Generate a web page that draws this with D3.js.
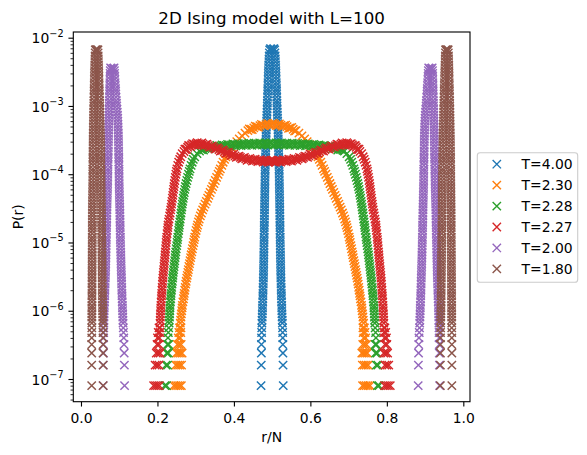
<!DOCTYPE html>
<html>
<head>
<meta charset="utf-8">
<script src="https://cdn.jsdelivr.net/npm/d3@7"></script>
<style>
  body { margin: 0; background: #fff; }
  text { font-family: "DejaVu Sans", sans-serif; fill: #000; }
</style>
</head>
<body>
<div id="chart"></div>
<script>
// P(r) levels: first the single-count rows (k * 8e-8), then a finer ladder
var levels = [8e-8,1.6e-7,2.4e-7,3.2e-7,4e-7,4.8e-7,5.6e-7,
  6.6e-7,7.3e-7,8.1e-7,9e-7,
  1e-6,1.1e-6,1.2e-6,1.35e-6,1.5e-6,1.65e-6,1.8e-6,2e-6,2.2e-6,2.45e-6,2.7e-6,3e-6,3.3e-6,3.65e-6,4e-6,4.45e-6,4.9e-6,5.4e-6,6e-6,6.6e-6,7.3e-6,8.1e-6,9e-6,
  1e-5,1.1e-5,1.2e-5,1.35e-5,1.5e-5,1.65e-5,1.8e-5,2e-5,2.2e-5,2.45e-5,2.7e-5,3e-5,3.3e-5,3.65e-5,4e-5,4.45e-5,4.9e-5,5.4e-5,6e-5,6.6e-5,7.3e-5,8.1e-5,9e-5,
  1e-4,1.1e-4,1.2e-4,1.35e-4,1.5e-4,1.65e-4,1.8e-4,2e-4,2.2e-4,2.45e-4,2.7e-4,3e-4,3.3e-4,3.65e-4,4e-4,4.45e-4,4.9e-4,5.4e-4,6e-4,6.6e-4,7.3e-4,8.1e-4,9e-4,
  1e-3,1.1e-3,1.2e-3,1.35e-3,1.5e-3,1.65e-3,1.8e-3,2e-3,2.2e-3,2.45e-3,2.7e-3,3e-3,3.3e-3,3.65e-3,4e-3,4.45e-3,4.9e-3,5.4e-3,6e-3,6.6e-3];

var labels = ["T=4.00", "T=2.30", "T=2.28", "T=2.27", "T=2.00", "T=1.80"];
var xTicks = [0, 0.2, 0.4, 0.6, 0.8, 1.0];
var yTicks = [1e-7, 1e-6, 1e-5, 1e-4, 1e-3, 1e-2];

// T=4.00 : r/N of each flank, one value per level starting at levels[0]
var t400L = [.471,.4715,.4718,.472,.4722,.4725,.4728,
  .4733,.4736,.474,.4743,
  .4746,.4748,.475,.4753,.4756,.4758,.476,.4762,.4764,.4767,.4769,.4772,.4774,.4775,.4776,.4777,.4779,.478,.4781,.4783,.4784,.4785,.4787,
  .4788,.4789,.479,.4792,.4793,.4794,.4795,.4796,.4797,.4799,.48,.4801,.4802,.4803,.4804,.4805,.4807,.4808,.4809,.481,.4811,.4813,.4814,
  .4815,.4817,.4819,.4822,.4824,.4826,.4828,.483,.4832,.4834,.4836,.4838,.484,.4842,.4844,.4846,.4849,.4852,.4856,.4859,.4862,.4866,.4869,
  .4872,.4874,.4877,.488,.4883,.4885,.4887,.489,.4892,.4895,.4898,.4901,.4903,.4907,.491,.4914,.4917,.4922,.4928,.4935];
var t400R = [.529,.5285,.5282,.528,.5278,.5275,.5272,
  .5267,.5264,.526,.5257,
  .5254,.5252,.525,.5247,.5244,.5242,.524,.5238,.5236,.5233,.5231,.5228,.5226,.5225,.5224,.5223,.5221,.522,.5219,.5217,.5216,.5215,.5213,
  .5212,.5211,.521,.5208,.5207,.5206,.5205,.5204,.5203,.5201,.52,.5199,.5198,.5197,.5196,.5195,.5193,.5192,.5191,.519,.5189,.5187,.5186,
  .5185,.5183,.5181,.5178,.5176,.5174,.5172,.517,.5168,.5166,.5164,.5162,.516,.5158,.5156,.5154,.5151,.5148,.5144,.5141,.5138,.5134,.5131,
  .5128,.5126,.5123,.512,.5117,.5115,.5113,.511,.5108,.5105,.5102,.5099,.5097,.5093,.509,.5086,.5083,.5078,.5072,.5065];
var t400Top = [[.4955,6.9e-3],[.4975,6.8e-3],[.5,6.5e-3],[.5025,6.8e-3],[.5045,6.9e-3]];

// T=2.30 : flanks start at levels[7]; extra points are the low-count rows and the crest
var t230L = [.2598,.2606,.2615,.2625,
  .2635,.2644,.2652,.2665,.268,.2691,.2702,.2714,.2726,.2739,.2752,.2766,.278,.2795,.2808,.2823,.2838,.2853,.2868,.2883,.2898,.2914,.293,
  .2947,.2961,.2975,.2994,.3012,.3032,.305,.3072,.3093,.3122,.315,.3182,.3212,.3245,.3278,.3313,.3345,.3378,.3412,.3445,.3478,.3513,.3547,
  .3585,.3617,.3645,.3683,.3717,.3755,.379,.384,.389,.395,.401,.4075,.414,.421,.429];
var t230R = [.7392,.7384,.7375,.7365,
  .7355,.7346,.7338,.7325,.731,.7299,.7288,.7276,.7264,.7251,.7238,.7224,.721,.7195,.7182,.7167,.7152,.7137,.7122,.7107,.7092,.7076,.706,
  .7043,.7029,.7015,.6996,.6978,.6958,.694,.6918,.6897,.6868,.684,.6808,.6778,.6745,.6712,.6677,.6645,.6612,.6578,.6545,.6512,.6477,.6443,
  .6405,.6373,.6345,.6307,.6273,.6235,.62,.615,.61,.604,.598,.5915,.585,.578,.57];
var t230Pts = [[.243,8e-8],[.248,8e-8],[.253,8e-8],[.258,8e-8],[.2625,8e-8],
  [.248,1.6e-7],[.253,1.6e-7],[.258,1.6e-7],[.263,1.6e-7],
  [.25,2.4e-7],[.255,2.4e-7],[.26,2.4e-7],[.2645,2.4e-7],
  [.252,3.2e-7],[.257,3.2e-7],[.262,3.2e-7],[.2545,4e-7],[.2595,4e-7],
  [.256,4.8e-7],[.261,4.8e-7],[.2575,5.6e-7],[.2615,5.6e-7],
  [.4365,4.35e-4],[.444,4.55e-4],[.452,4.78e-4],[.46,4.98e-4],[.468,5.13e-4],[.476,5.25e-4],
  [.484,5.33e-4],[.492,5.38e-4],[.4995,5.4e-4],[.507,5.38e-4],[.515,5.33e-4],[.523,5.25e-4],
  [.531,5.13e-4],[.539,4.98e-4],[.547,4.78e-4],[.555,4.55e-4],[.5625,4.35e-4],
  [.4403,4.6e-4],[.448,4.5e-4],[.456,5.05e-4],[.464,4.88e-4],[.472,5.37e-4],[.48,5.1e-4],
  [.488,5.55e-4],[.4958,5.2e-4],[.5033,5.57e-4],[.511,5.15e-4],[.519,5.47e-4],[.527,5.02e-4],
  [.535,5.22e-4],[.543,4.7e-4],[.551,4.84e-4],[.5588,4.3e-4],
  [.756,8e-8],[.751,8e-8],[.746,8e-8],[.741,8e-8],[.7365,8e-8],
  [.751,1.6e-7],[.746,1.6e-7],[.741,1.6e-7],[.736,1.6e-7],
  [.749,2.4e-7],[.744,2.4e-7],[.739,2.4e-7],[.7345,2.4e-7],
  [.747,3.2e-7],[.742,3.2e-7],[.737,3.2e-7],[.7445,4e-7],[.7395,4e-7],
  [.743,4.8e-7],[.738,4.8e-7],[.7415,5.6e-7],[.7375,5.6e-7]];

// T=2.28
var t228L = [.2306,.231,.2314,.2318,
  .2323,.2327,.2331,.2338,.2346,.2352,.2358,.2366,.2373,.2382,.239,.2398,.2406,.2415,.2423,.2433,.2442,.2451,.2461,.247,.248,.2491,.2503,
  .2514,.2523,.2533,.2544,.2555,.2565,.2574,.2585,.2596,.2607,.2617,.2628,.2639,.265,.2661,.2675,.2688,.2701,.2716,.2731,.2749,.2769,.2789,
  .2812,.2833,.2852,.2881,.2908,.2938,.2975,.3035];
var t228R = [.7684,.768,.7676,.7672,
  .7667,.7663,.7659,.7652,.7644,.7638,.7632,.7624,.7617,.7608,.76,.7592,.7584,.7575,.7567,.7557,.7548,.7539,.7529,.752,.751,.7499,.7487,
  .7476,.7467,.7457,.7446,.7435,.7425,.7416,.7405,.7394,.7383,.7373,.7362,.7351,.734,.7329,.7315,.7302,.7289,.7274,.7259,.7241,.7221,.7201,
  .7178,.7157,.7138,.7109,.7082,.7052,.7015,.6955];
var t228Pts = [[.2195,8e-8],[.2235,8e-8],[.2225,1.6e-7],[.2265,1.6e-7],
  [.2245,2.4e-7],[.2285,2.4e-7],[.226,3.2e-7],[.2295,3.2e-7],
  [.2275,4e-7],[.2285,4.8e-7],[.2295,5.6e-7],
  [.31,2.18e-4],[.317,2.3e-4],[.324,2.37e-4],[.331,2.42e-4],[.338,2.46e-4],
  [.345,2.5e-4],[.352,2.53e-4],[.359,2.56e-4],[.366,2.59e-4],[.373,2.62e-4],
  [.38,2.64e-4],[.387,2.66e-4],[.394,2.68e-4],[.401,2.69e-4],[.408,2.7e-4],
  [.415,2.72e-4],[.422,2.73e-4],[.429,2.74e-4],[.436,2.75e-4],[.443,2.75e-4],
  [.45,2.76e-4],[.457,2.76e-4],[.464,2.77e-4],[.471,2.77e-4],[.478,2.77e-4],
  [.485,2.77e-4],[.492,2.77e-4],[.4995,2.77e-4],[.507,2.77e-4],[.514,2.77e-4],
  [.521,2.77e-4],[.528,2.77e-4],[.535,2.77e-4],[.542,2.76e-4],[.549,2.76e-4],
  [.556,2.75e-4],[.563,2.75e-4],[.57,2.74e-4],[.577,2.73e-4],[.584,2.72e-4],
  [.591,2.7e-4],[.598,2.69e-4],[.605,2.68e-4],[.612,2.66e-4],[.619,2.64e-4],
  [.626,2.62e-4],[.633,2.59e-4],[.64,2.56e-4],[.647,2.53e-4],[.654,2.5e-4],
  [.661,2.46e-4],[.668,2.42e-4],[.675,2.37e-4],[.682,2.3e-4],[.689,2.18e-4],
  [.3135,2.32e-4],[.3205,2.26e-4],[.3275,2.48e-4],[.3345,2.35e-4],[.3415,2.57e-4],
  [.3485,2.43e-4],[.3555,2.64e-4],[.3625,2.49e-4],[.3695,2.69e-4],[.3765,2.54e-4],
  [.3835,2.74e-4],[.3905,2.58e-4],[.3975,2.78e-4],[.4045,2.61e-4],[.4115,2.81e-4],
  [.4185,2.63e-4],[.4255,2.83e-4],[.4325,2.65e-4],[.4395,2.85e-4],[.4465,2.66e-4],
  [.4535,2.86e-4],[.4605,2.67e-4],[.4675,2.87e-4],[.4745,2.67e-4],[.4815,2.87e-4],
  [.4885,2.67e-4],[.4958,2.87e-4],[.5032,2.67e-4],[.5105,2.87e-4],[.5175,2.67e-4],
  [.5245,2.87e-4],[.5315,2.67e-4],[.5385,2.86e-4],[.5455,2.66e-4],[.5525,2.85e-4],
  [.5595,2.65e-4],[.5665,2.83e-4],[.5735,2.63e-4],[.5805,2.81e-4],[.5875,2.61e-4],
  [.5945,2.78e-4],[.6015,2.58e-4],[.6085,2.74e-4],[.6155,2.54e-4],[.6225,2.69e-4],
  [.6295,2.49e-4],[.6365,2.64e-4],[.6435,2.43e-4],[.6505,2.57e-4],[.6575,2.35e-4],
  [.6645,2.48e-4],[.6715,2.26e-4],[.6785,2.32e-4],[.6855,2.24e-4],
  [.7795,8e-8],[.7755,8e-8],[.7765,1.6e-7],[.7725,1.6e-7],
  [.7745,2.4e-7],[.7705,2.4e-7],[.773,3.2e-7],[.7695,3.2e-7],
  [.7715,4e-7],[.7705,4.8e-7],[.7695,5.6e-7]];

// T=2.27
var t227L = [.2069,.2072,.2076,.2079,
  .2083,.2087,.2091,.2096,.2102,.2107,.2112,.2118,.2124,.213,.2135,.2142,.2149,.2156,.2163,.2171,.2178,.2185,.2193,.22,.2207,.2214,.2221,
  .2228,.2236,.2243,.2252,.2262,.227,.2278,.229,.2302,.2318,.2332,.2346,.2358,.2369,.2379,.2391,.2401,.2411,.2422,.2432,.2443,.2455,.2468,
  .2482,.2496,.251,.2532,.2555,.2582,.261,.2648];
var t227R = [.7921,.7918,.7914,.7911,
  .7907,.7903,.7899,.7894,.7888,.7883,.7878,.7872,.7866,.786,.7855,.7848,.7841,.7834,.7827,.7819,.7812,.7805,.7797,.779,.7783,.7776,.7769,
  .7762,.7754,.7747,.7738,.7728,.772,.7712,.77,.7688,.7672,.7658,.7644,.7632,.7621,.7611,.7599,.7589,.7579,.7568,.7558,.7547,.7535,.7522,
  .7508,.7494,.748,.7458,.7435,.7408,.738,.7342];
var t227Pts = [[.19,8e-8],[.195,8e-8],[.2,8e-8],[.205,8e-8],
  [.194,1.6e-7],[.199,1.6e-7],[.204,1.6e-7],[.197,2.4e-7],[.202,2.4e-7],[.207,2.4e-7],
  [.199,3.2e-7],[.204,3.2e-7],[.2,4e-7],[.205,4e-7],[.202,4.8e-7],[.2065,4.8e-7],
  [.204,5.6e-7],[.2065,5.6e-7],
  [.2695,2.15e-4],[.274,2.32e-4],[.279,2.48e-4],[.284,2.6e-4],[.289,2.68e-4],
  [.295,2.75e-4],[.301,2.79e-4],[.307,2.8e-4],[.313,2.78e-4],[.319,2.75e-4],
  [.326,2.7e-4],[.333,2.62e-4],[.34,2.54e-4],[.347,2.46e-4],[.354,2.38e-4],
  [.361,2.3e-4],[.368,2.22e-4],[.375,2.14e-4],[.382,2.06e-4],[.389,1.99e-4],
  [.396,1.92e-4],[.403,1.86e-4],[.41,1.81e-4],[.417,1.76e-4],[.424,1.72e-4],
  [.431,1.68e-4],[.438,1.65e-4],[.445,1.63e-4],[.452,1.61e-4],[.459,1.59e-4],
  [.466,1.58e-4],[.473,1.57e-4],[.48,1.56e-4],[.487,1.55e-4],[.494,1.55e-4],
  [.5,1.55e-4],[.505,1.55e-4],[.512,1.55e-4],[.519,1.56e-4],[.526,1.57e-4],
  [.533,1.58e-4],[.54,1.59e-4],[.547,1.61e-4],[.554,1.63e-4],[.561,1.65e-4],
  [.568,1.68e-4],[.575,1.72e-4],[.582,1.76e-4],[.589,1.81e-4],[.596,1.86e-4],
  [.603,1.92e-4],[.61,1.99e-4],[.617,2.06e-4],[.624,2.14e-4],[.631,2.22e-4],
  [.638,2.3e-4],[.645,2.38e-4],[.652,2.46e-4],[.659,2.54e-4],[.666,2.62e-4],
  [.673,2.7e-4],[.68,2.75e-4],[.686,2.78e-4],[.692,2.8e-4],[.698,2.79e-4],
  [.704,2.75e-4],[.71,2.68e-4],[.715,2.6e-4],[.72,2.48e-4],[.725,2.32e-4],[.7295,2.15e-4],
  [.2718,2.32e-4],[.2765,2.32e-4],[.2815,2.63e-4],[.2865,2.55e-4],[.292,2.81e-4],
  [.298,2.67e-4],[.304,2.9e-4],[.31,2.69e-4],[.316,2.87e-4],[.3225,2.63e-4],
  [.3295,2.75e-4],[.3365,2.49e-4],[.3435,2.59e-4],[.3505,2.34e-4],[.3575,2.42e-4],
  [.3645,2.18e-4],[.3715,2.26e-4],[.3785,2.03e-4],[.3855,2.09e-4],[.3925,1.88e-4],
  [.3995,1.96e-4],[.4065,1.77e-4],[.4135,1.84e-4],[.4205,1.68e-4],[.4275,1.76e-4],
  [.4345,1.6e-4],[.4415,1.7e-4],[.4485,1.56e-4],[.4555,1.66e-4],[.4625,1.53e-4],
  [.4695,1.63e-4],[.4765,1.51e-4],[.4835,1.61e-4],[.4905,1.5e-4],[.497,1.6e-4],
  [.502,1.6e-4],[.5085,1.5e-4],[.5155,1.61e-4],[.5225,1.51e-4],[.5295,1.63e-4],
  [.5365,1.53e-4],[.5435,1.66e-4],[.5505,1.56e-4],[.5575,1.7e-4],[.5645,1.6e-4],
  [.5715,1.76e-4],[.5785,1.68e-4],[.5855,1.84e-4],[.5925,1.77e-4],[.5995,1.96e-4],
  [.6065,1.88e-4],[.6135,2.09e-4],[.6205,2.03e-4],[.6275,2.26e-4],[.6345,2.18e-4],
  [.6415,2.42e-4],[.6485,2.34e-4],[.6555,2.59e-4],[.6625,2.49e-4],[.6695,2.75e-4],
  [.6765,2.63e-4],[.683,2.87e-4],[.689,2.69e-4],[.695,2.9e-4],[.701,2.67e-4],
  [.707,2.81e-4],[.7125,2.55e-4],[.7175,2.63e-4],[.7225,2.32e-4],[.7272,2.32e-4],
  [.809,8e-8],[.804,8e-8],[.799,8e-8],[.794,8e-8],
  [.805,1.6e-7],[.8,1.6e-7],[.795,1.6e-7],[.802,2.4e-7],[.797,2.4e-7],[.792,2.4e-7],
  [.8,3.2e-7],[.795,3.2e-7],[.799,4e-7],[.794,4e-7],[.797,4.8e-7],[.7925,4.8e-7],
  [.795,5.6e-7],[.7925,5.6e-7]];

// T=2.00 : two peaks, two flanks each (from levels[0])
var t200L1 = [.058,.0585,.0588,.059,.0592,.0594,.0596,
  .0598,.06,.0601,.0603,
  .0605,.0608,.0611,.0615,.0618,.0621,.0623,.0626,.0628,.0631,.0634,.0637,.0639,.0641,.0643,.0645,.0647,.0649,.0651,.0653,.0654,.0656,.0658,
  .066,.0662,.0663,.0665,.0667,.0668,.067,.0671,.0673,.0674,.0676,.0678,.068,.0682,.0684,.0687,.0689,.0691,.0693,.0695,.0697,.0699,.0701,
  .0702,.0703,.0705,.0706,.0708,.0709,.071,.0712,.0713,.0715,.0716,.0717,.0719,.072,.0721,.0723,.0725,.0727,.0729,.0731,.0734,.0736,.0738,
  .074,.0742,.0744,.0746,.0748,.075,.0752,.0754,.0756,.0758,.076,.0763,.0766];
var t200R1 = [.114,.1135,.113,.1125,.112,.1112,.1106,
  .11,.1097,.1094,.1091,
  .1088,.1085,.1083,.1079,.1077,.1074,.1071,.1068,.1066,.1064,.1062,.1059,.1057,.1055,.1053,.105,.1048,.1046,.1044,.1042,.1039,.1037,.1035,
  .1033,.1031,.103,.1028,.1026,.1025,.1023,.1022,.102,.1018,.1017,.1015,.1013,.1011,.1009,.1007,.1005,.1004,.1002,.1,.0999,.0997,.0996,
  .0996,.0995,.0993,.0992,.099,.0989,.0988,.0986,.0985,.0983,.0982,.0981,.0979,.0978,.0976,.0974,.097,.0967,.0964,.0961,.0955,.0949,.0942,
  .0935,.0929,.0924,.0917,.0911,.0906,.0902,.0897,.0892,.0887,.0883,.0878,.0874];
var t200L2 = [.882,.8825,.883,.8835,.884,.8848,.8854,
  .886,.8863,.8866,.8869,
  .8872,.8875,.8877,.8881,.8883,.8886,.8889,.8892,.8894,.8896,.8898,.8901,.8903,.8905,.8907,.891,.8912,.8914,.8916,.8918,.8921,.8923,.8925,
  .8927,.8929,.893,.8932,.8934,.8935,.8937,.8938,.894,.8942,.8943,.8945,.8947,.8949,.8951,.8953,.8955,.8956,.8958,.896,.8961,.8963,.8964,
  .8964,.8965,.8967,.8968,.897,.8971,.8972,.8974,.8975,.8977,.8978,.8979,.8981,.8982,.8984,.8986,.899,.8993,.8996,.8999,.9005,.9011,.9018,
  .9025,.9031,.9036,.9043,.9049,.9054,.9058,.9063,.9068,.9073,.9077,.9082,.9086];
var t200R2 = [.938,.9375,.9372,.937,.9368,.9366,.9364,
  .9362,.936,.9359,.9357,
  .9355,.9352,.9349,.9345,.9342,.9339,.9337,.9334,.9332,.9329,.9326,.9323,.9321,.9319,.9317,.9315,.9313,.9311,.9309,.9307,.9306,.9304,.9302,
  .93,.9298,.9297,.9295,.9293,.9292,.929,.9289,.9287,.9286,.9284,.9282,.928,.9278,.9276,.9273,.9271,.9269,.9267,.9265,.9263,.9261,.9259,
  .9258,.9257,.9255,.9254,.9252,.9251,.925,.9248,.9247,.9245,.9244,.9243,.9241,.924,.9239,.9237,.9235,.9233,.9231,.9229,.9226,.9224,.9222,
  .922,.9218,.9216,.9214,.9212,.921,.9208,.9206,.9204,.9202,.92,.9197,.9194];
var t200Top = [[.0775,3.6e-3],[.0795,3.55e-3],[.082,3.35e-3],[.0845,3.55e-3],[.0865,3.6e-3],
  [.9095,3.6e-3],[.9115,3.55e-3],[.914,3.35e-3],[.9165,3.55e-3],[.9185,3.6e-3]];

// T=1.80
var t180L1 = [.028,.028,.028,.028,.0281,.0282,.0283,
  .0283,.0284,.0284,.0285,
  .0285,.0285,.0286,.0286,.0287,.0287,.0288,.0288,.0288,.0289,.0289,.029,.029,.029,.0291,.0291,.0292,.0292,.0293,.0293,.0293,.0294,.0294,
  .0295,.0295,.0296,.0296,.0297,.0297,.0298,.0298,.0298,.0299,.0299,.03,.03,.0301,.0302,.0303,.0304,.0305,.0306,.0307,.0308,.0309,.031,
  .031,.0311,.0311,.0312,.0313,.0313,.0314,.0315,.0315,.0316,.0317,.0318,.0319,.032,.0321,.0323,.0324,.0326,.0327,.0329,.033,.0332,.0333,
  .0335,.0337,.0338,.034,.0342,.0344,.0345,.0347,.0349,.0351,.0352,.0354,.0356,.0358,.0361,.0364,.0366,.0369,.0372,.0375];
var t180R1 = [.058,.0579,.0578,.0577,.0576,.0575,.0574,
  .0572,.0571,.057,.0568,
  .0565,.0564,.0563,.0562,.0561,.0561,.056,.0559,.0558,.0557,.0556,.0555,.0555,.0554,.0553,.0552,.0551,.055,.0549,.0549,.0548,.0547,.0546,
  .0545,.0544,.0543,.0542,.0541,.0541,.054,.0539,.0538,.0537,.0536,.0535,.0535,.0534,.0533,.0532,.0531,.053,.0529,.0529,.0528,.0527,.0526,
  .0525,.0524,.0523,.0522,.0521,.0519,.0518,.0517,.0516,.0515,.0514,.0513,.0511,.0509,.0507,.0505,.0503,.0501,.0499,.0497,.0495,.0493,.0492,
  .049,.0488,.0486,.0484,.0481,.0479,.0477,.0475,.0473,.047,.0468,.0466,.0464,.0461,.0458,.0455,.0452,.0449,.0447,.0445];
var t180L2 = [.94,.9401,.9402,.9403,.9404,.9405,.9406,
  .9408,.9409,.941,.9412,
  .9415,.9416,.9417,.9418,.9419,.9419,.942,.9421,.9422,.9423,.9424,.9425,.9425,.9426,.9427,.9428,.9429,.943,.9431,.9431,.9432,.9433,.9434,
  .9435,.9436,.9437,.9438,.9439,.9439,.944,.9441,.9442,.9443,.9444,.9445,.9445,.9446,.9447,.9448,.9449,.945,.9451,.9451,.9452,.9453,.9454,
  .9455,.9456,.9457,.9458,.9459,.9461,.9462,.9463,.9464,.9465,.9466,.9467,.9469,.9471,.9473,.9475,.9477,.9479,.9481,.9483,.9485,.9487,.9488,
  .949,.9492,.9494,.9496,.9499,.9501,.9503,.9505,.9507,.951,.9512,.9514,.9516,.9519,.9522,.9525,.9528,.9531,.9533,.9535];
var t180R2 = [.97,.97,.97,.97,.9699,.9698,.9697,
  .9697,.9696,.9696,.9695,
  .9695,.9695,.9694,.9694,.9693,.9693,.9692,.9692,.9692,.9691,.9691,.969,.969,.969,.9689,.9689,.9688,.9688,.9687,.9687,.9687,.9686,.9686,
  .9685,.9685,.9684,.9684,.9683,.9683,.9682,.9682,.9682,.9681,.9681,.968,.968,.9679,.9678,.9677,.9676,.9675,.9674,.9673,.9672,.9671,.967,
  .967,.9669,.9669,.9668,.9667,.9667,.9666,.9665,.9665,.9664,.9663,.9662,.9661,.966,.9659,.9657,.9656,.9654,.9653,.9651,.965,.9648,.9647,
  .9645,.9643,.9642,.964,.9638,.9636,.9635,.9633,.9631,.9629,.9628,.9626,.9624,.9622,.9619,.9616,.9614,.9611,.9608,.9605];
var t180Top = [[.0395,6.7e-3],[.041,6.3e-3],[.0425,6.7e-3],[.9555,6.7e-3],[.957,6.3e-3],[.9585,6.7e-3]];

var colors = ["#1f77b4", "#ff7f0e", "#2ca02c", "#d62728", "#9467bd", "#8c564b"];

// pair a flank's r/N values with the levels they were read at
function leg(xs, start) {
  return xs.map(function(v, i) { return [v, levels[start + i]]; })
    .filter(function(p) { return p[1] !== undefined; });
}

var series = [
  leg(t400L, 0).concat(leg(t400R, 0), t400Top),
  leg(t230L, 7).concat(leg(t230R, 7), t230Pts),
  leg(t228L, 7).concat(leg(t228R, 7), t228Pts),
  leg(t227L, 7).concat(leg(t227R, 7), t227Pts),
  leg(t200L1, 0).concat(leg(t200R1, 0), leg(t200L2, 0), leg(t200R2, 0), t200Top),
  leg(t180L1, 0).concat(leg(t180R1, 0), leg(t180L2, 0), leg(t180R2, 0), t180Top)
].map(function(pts, i) { return {label: labels[i], color: colors[i], points: pts}; });

// axes box in pixels
var width = 587, height = 455;
var box = {left: 73.3, right: 470, top: 32, bottom: 401.7};
var fs = 13.9;

var svg = d3.select("#chart")
    .append("svg")
    .attr("width", width)
    .attr("height", height);

var x = d3.scaleLinear()
    .domain([-0.0201, 1.0175])
    .range([box.left, box.right]);

var y = d3.scaleLog()
    .domain([Math.pow(10, -7.3325), Math.pow(10, -1.9165)])
    .range([box.bottom, box.top]);

// the "x" marker, 6pt wide
var mk = 4.17;
var xMark = "M" + (-mk) + "," + (-mk) + "L" + mk + "," + mk + "M" + (-mk) + "," + mk + "L" + mk + "," + (-mk);

// markers
svg.append("g")
    .selectAll("g")
    .data(series)
    .enter()
    .append("g")
    .attr("stroke", function(d) { return d.color; })
    .attr("stroke-width", 1.45)
    .attr("fill", "none")
    .selectAll("path")
    .data(function(d) { return d.points; })
    .enter()
    .append("path")
    .attr("d", xMark)
    .attr("transform", function(d) { return "translate(" + x(d[0]) + "," + y(d[1]) + ")"; });

// x axis
svg.append("g")
    .attr("transform", "translate(0," + box.bottom + ")")
    .call(d3.axisBottom(x).tickValues(xTicks).tickFormat(d3.format(".1f"))
        .tickSize(4.86).tickSizeOuter(0))
    .call(function(g) { g.select(".domain").remove(); })
    .call(function(g) { g.selectAll(".tick line").attr("stroke", "#000").attr("stroke-width", 1.11); })
    .call(function(g) {
        g.selectAll(".tick text")
            .attr("y", 21).attr("dy", null)
            .attr("font-size", fs).attr("font-family", "DejaVu Sans").attr("fill", "#000");
    });

// y axis, minor ticks first
var minors = [];
for (var e = -8; e <= -2; e++) {
    for (var s = 2; s <= 9; s++) {
        var v = s * Math.pow(10, e);
        if (v > y.domain()[0] && v < y.domain()[1]) minors.push(v);
    }
}
svg.append("g")
    .attr("transform", "translate(" + box.left + ",0)")
    .call(d3.axisLeft(y).tickValues(minors).tickFormat("").tickSize(2.78).tickSizeOuter(0))
    .call(function(g) { g.select(".domain").remove(); })
    .call(function(g) { g.selectAll(".tick line").attr("stroke", "#000").attr("stroke-width", 0.83); });

var yAxis = svg.append("g")
    .attr("transform", "translate(" + box.left + ",0)")
    .call(d3.axisLeft(y).tickValues(yTicks).tickFormat("").tickSize(4.86).tickSizeOuter(0))
    .call(function(g) { g.select(".domain").remove(); })
    .call(function(g) { g.selectAll(".tick line").attr("stroke", "#000").attr("stroke-width", 1.11); });

// 10^k labels with a raised exponent
yAxis.selectAll(".tick").each(function(d) {
    var t = d3.select(this).select("text")
        .attr("x", -9.72).attr("y", 5.1).attr("dy", null)
        .attr("text-anchor", "end")
        .attr("font-size", fs).attr("font-family", "DejaVu Sans").attr("fill", "#000");
    t.append("tspan").text("10");
    t.append("tspan").attr("font-size", 9.7).attr("dy", -6.8)
        .text("\u2212" + Math.round(-Math.log10(d)));
});

// axes frame
svg.append("rect")
    .attr("x", box.left).attr("y", box.top)
    .attr("width", box.right - box.left).attr("height", box.bottom - box.top)
    .attr("fill", "none").attr("stroke", "#000").attr("stroke-width", 1.11);

// title and axis labels
svg.append("text")
    .attr("x", (box.left + box.right) / 2).attr("y", 24)
    .attr("text-anchor", "middle").attr("font-size", 16.7)
    .text("2D Ising model with L=100");

svg.append("text")
    .attr("x", (box.left + box.right) / 2).attr("y", 442)
    .attr("text-anchor", "middle").attr("font-size", fs)
    .text("r/N");

svg.append("text")
    .attr("transform", "translate(23," + ((box.top + box.bottom) / 2) + ")rotate(-90)")
    .attr("text-anchor", "middle").attr("font-size", fs)
    .text("P(r)");

// legend
var lg = svg.append("g");
lg.append("rect")
    .attr("x", 477.3).attr("y", 152.7).attr("width", 100.4).attr("height", 129.6)
    .attr("rx", 2.8).attr("fill", "#fff").attr("fill-opacity", 0.8)
    .attr("stroke", "#cccccc").attr("stroke-width", 1.11);

var rows = lg.selectAll("g.row")
    .data(series)
    .enter()
    .append("g")
    .attr("class", "row")
    .attr("transform", function(d, i) { return "translate(0," + (164.2 + i * 20.94) + ")"; });

rows.append("path")
    .attr("d", xMark)
    .attr("transform", "translate(496.8,0)")
    .attr("stroke", function(d) { return d.color; })
    .attr("stroke-width", 1.39)
    .attr("fill", "none");

rows.append("text")
    .attr("x", 521.6).attr("y", 5.1)
    .attr("font-size", fs)
    .text(function(d) { return d.label; });
</script>
</body>
</html>
